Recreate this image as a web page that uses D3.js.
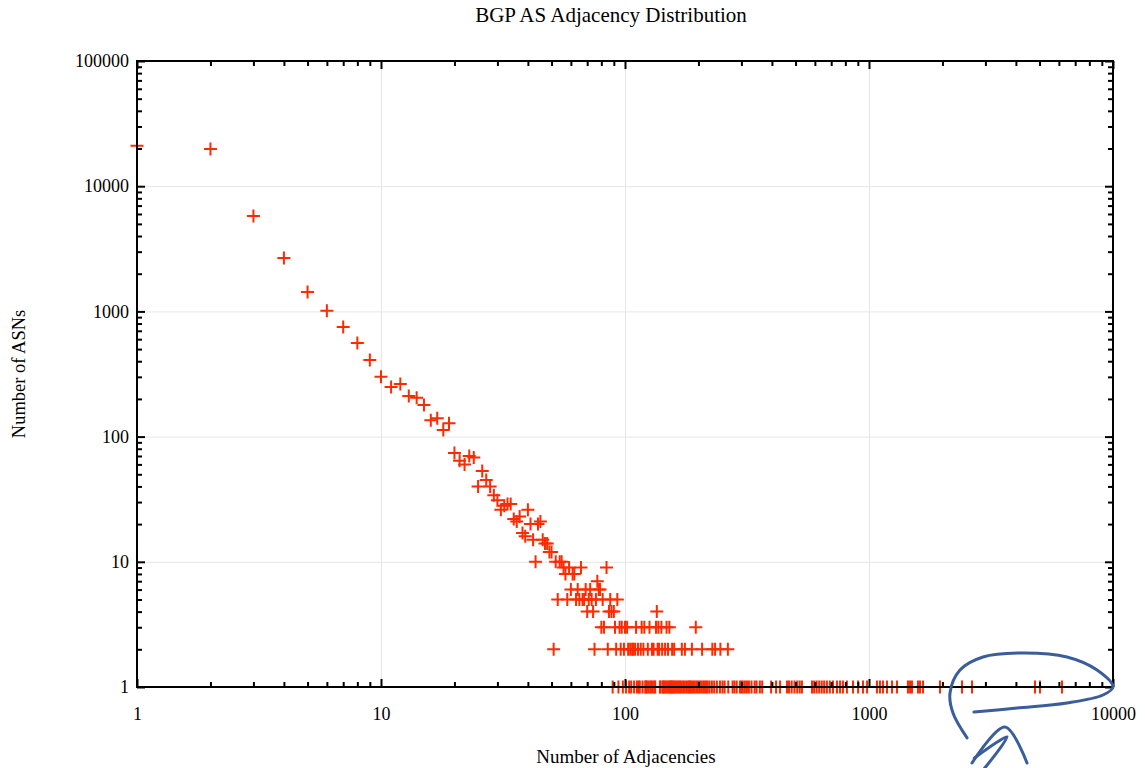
<!DOCTYPE html>
<html>
<head>
<meta charset="utf-8">
<script src="https://cdn.jsdelivr.net/npm/d3@7"></script>
<style>
  body { margin: 0; background: #fff; }
  text { font-family: "Liberation Serif", "Times New Roman", serif; fill: #000; }
</style>
</head>
<body>
<svg id="chart" width="1145" height="768"></svg>
<script>
// adjacency count -> number of ASNs (head of the distribution)
var headAdj = [1, 2, 3, 4, 5, 6, 7, 8, 9, 10, 11, 12, 13, 14, 15, 16, 17, 18, 19,
  20, 21, 22, 23, 24, 25, 26, 27, 28, 29, 30, 31, 32, 33, 34, 35, 36, 37, 38, 39,
  40, 41, 42, 43, 44, 45, 46, 47, 48, 49, 50, 52, 53, 54, 55, 56, 57, 58, 59,
  60, 61, 62, 63, 64, 65, 66, 67, 68, 69, 71, 72, 73, 76, 77, 78, 79, 81, 84, 87, 93];
var headAsns = [21000, 19800, 5780, 2670, 1430, 1010, 750, 560, 410, 300, 249, 263, 211, 204, 179, 135, 140, 113, 128,
  74, 64, 60, 70, 68, 40, 53, 45, 40, 34, 31, 26, 28, 29, 29, 22, 21, 23, 17, 16,
  26, 20, 15, 10, 20, 21, 15, 14, 14, 12, 12, 10, 5, 10, 10, 9, 8, 5, 9,
  6, 8, 8, 5, 6, 5, 9, 5, 5, 6, 5, 6, 5, 5, 7, 6, 6, 5, 9, 5, 5];

// tail: adjacency counts seen by exactly 4, 3, 2 and 1 ASNs
var fourAdj = [70, 74, 86, 88, 90, 135];
var threeAdj = [80, 82, 91, 95, 97, 100, 102, 111, 117, 120, 126, 134, 137, 141, 148, 152, 195];
var twoAdj = [51, 75, 85, 92, 96, 99, 103, 105, 107, 108, 110, 113, 116, 119, 124, 129, 131, 136,
  138, 142, 146, 150, 156, 159, 171, 176, 188, 207, 228, 234, 246, 264];
var oneAdj = [89, 94, 98, 101, 104, 106, 109, 112, 114, 115, 118, 121, 122, 123, 125, 127, 128, 130,
  132, 133, 139, 140, 143, 144, 145, 147, 149, 151, 153, 154, 155, 157, 158, 160, 162, 164, 166,
  168, 170, 173, 175, 178, 181, 183, 185, 187, 190, 193, 196, 199, 202, 205, 209, 212, 215, 218,
  222, 227, 232, 238, 245, 251, 256, 265, 276, 281, 287, 296, 300, 304, 310, 316, 322, 330, 340,
  346, 357, 365, 397, 416, 432, 461, 470, 482, 495, 508, 520, 531, 584, 596, 610, 625, 640, 655,
  672, 691, 712, 739, 761, 782, 812, 860, 902, 945, 982, 1078, 1109, 1141, 1185, 1242, 1302,
  1444, 1473, 1500, 1587, 1618, 1665, 1954, 2405, 2644, 4790, 5020, 6180];

var xTickValues = [1, 10, 100, 1000, 10000];
var yTickValues = [1, 10, 100, 1000, 10000, 100000];

var titleText = "BGP AS Adjacency Distribution";
var xLabel = "Number of Adjacencies";
var yLabel = "Number of ASNs";

// hand drawn note, in data units
var noteLoop = [[2523, 0.392], [2209, 0.62], [2148, 0.895], [2360, 1.367], [2932, 1.738], [4276, 1.869],
  [6475, 1.738], [8600, 1.367], [10000, 1], [9100, 0.863], [6475, 0.745], [4043, 0.679], [2692, 0.631]];
var noteCaret = [[2643, 0.247], [3608, 0.479], [4443, 0.247]];
var noteStroke = [[2700, 0.27], [3680, 0.4], [2950, 0.22]];

var margin = { left: 137, top: 61, right: 32, bottom: 81 };
var width = 1145 - margin.left - margin.right;
var height = 768 - margin.top - margin.bottom;

var svg = d3.select("#chart");
var g = svg.append("g").attr("transform", "translate(" + margin.left + "," + margin.top + ")");

var x = d3.scaleLog().domain([1, 10000]).range([0, width]);
var y = d3.scaleLog().domain([1, 100000]).range([height, 0]);

var points = [];
headAdj.forEach(function (a, i) { points.push([a, headAsns[i]]); });
fourAdj.forEach(function (a) { points.push([a, 4]); });
threeAdj.forEach(function (a) { points.push([a, 3]); });
twoAdj.forEach(function (a) { points.push([a, 2]); });
oneAdj.forEach(function (a) { points.push([a, 1]); });

// grid
g.append("g")
  .attr("class", "grid")
  .attr("transform", "translate(0," + height + ")")
  .call(d3.axisBottom(x).tickValues(xTickValues).tickSize(-height).tickFormat(""));
g.append("g")
  .attr("class", "grid")
  .call(d3.axisLeft(y).tickValues(yTickValues).tickSize(-width).tickFormat(""));
g.selectAll(".grid line").attr("stroke", "#e6e6e6").attr("stroke-width", 1);
g.selectAll(".grid .domain").remove();

// points
g.append("g")
  .selectAll("path")
  .data(points)
  .enter()
  .append("path")
  .attr("transform", function (d) { return "translate(" + x(d[0]) + "," + y(d[1]) + ")"; })
  .attr("d", "M-6.5,0H6.5M0,-6.5V6.5")
  .attr("stroke", "#ff2a00")
  .attr("stroke-width", 2)
  .attr("fill", "none");

// minor ticks
var xMinor = x.ticks().filter(function (v) { return xTickValues.indexOf(v) < 0; });
var yMinor = y.ticks().filter(function (v) { return yTickValues.indexOf(v) < 0; });

function tickAxis(axis, transform) {
  var a = g.append("g").attr("class", "ticks").call(axis);
  if (transform) a.attr("transform", transform);
  a.select(".domain").remove();
  return a;
}

tickAxis(d3.axisBottom(x).tickValues(xMinor).tickSize(-5).tickFormat(""), "translate(0," + height + ")");
tickAxis(d3.axisTop(x).tickValues(xMinor).tickSize(-5).tickFormat(""));
tickAxis(d3.axisLeft(y).tickValues(yMinor).tickSize(-5).tickFormat(""));
tickAxis(d3.axisRight(y).tickValues(yMinor).tickSize(-5).tickFormat(""), "translate(" + width + ",0)");

tickAxis(d3.axisBottom(x).tickValues(xTickValues).tickSize(-8).tickPadding(20)
  .tickFormat(d3.format("d")), "translate(0," + height + ")");
tickAxis(d3.axisTop(x).tickValues(xTickValues).tickSize(-8).tickFormat(""));
tickAxis(d3.axisLeft(y).tickValues(yTickValues).tickSize(-8).tickPadding(8)
  .tickFormat(d3.format("d")));
tickAxis(d3.axisRight(y).tickValues(yTickValues).tickSize(-8).tickFormat(""), "translate(" + width + ",0)");

g.selectAll(".ticks line").attr("stroke", "#000").attr("stroke-width", 2);
g.selectAll(".ticks text")
  .attr("font-family", "Liberation Serif, serif")
  .attr("font-size", 18)
  .attr("fill", "#000");

// frame
g.append("rect")
  .attr("width", width)
  .attr("height", height)
  .attr("fill", "none")
  .attr("stroke", "#000")
  .attr("stroke-width", 2);

// labels
svg.append("text")
  .attr("x", 611)
  .attr("y", 22)
  .attr("text-anchor", "middle")
  .attr("font-size", 21)
  .text(titleText);

svg.append("text")
  .attr("x", 626)
  .attr("y", 763)
  .attr("text-anchor", "middle")
  .attr("font-size", 19)
  .text(xLabel);

svg.append("text")
  .attr("transform", "translate(25," + (margin.top + height / 2) + ") rotate(-90)")
  .attr("text-anchor", "middle")
  .attr("font-size", 18.5)
  .text(yLabel);

// hand drawn note
var noteLine = d3.line()
  .x(function (d) { return margin.left + x(d[0]); })
  .y(function (d) { return margin.top + y(d[1]); })
  .curve(d3.curveCatmullRom);

[noteLoop, noteCaret, noteStroke].forEach(function (pts) {
  svg.append("path")
    .attr("d", noteLine(pts))
    .attr("fill", "none")
    .attr("stroke", "#3a5e9c")
    .attr("stroke-width", 3)
    .attr("stroke-linecap", "round")
    .attr("stroke-linejoin", "round");
});
</script>
</body>
</html>
